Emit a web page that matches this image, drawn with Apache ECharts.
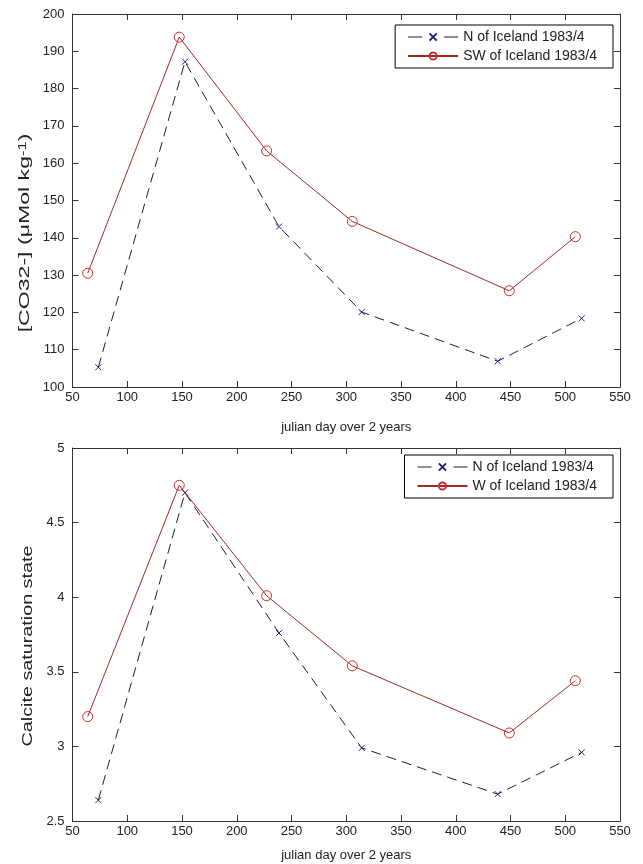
<!DOCTYPE html>
<html>
<head>
<meta charset="utf-8">
<script src="https://cdn.jsdelivr.net/npm/echarts@6/dist/echarts.min.js"></script>
<style>
html,body{margin:0;padding:0;background:#fff;}
#chart{width:643px;height:864px;}
</style>
</head>
<body>
<div id="chart"></div>
<script>
// ---- Data ----
const xTicks = [50, 550, 50];            // min, max, interval (julian day)
const topYTicks = [100, 200, 10];        // min, max, interval
const botYTicks = [2.5, 5, 0.5];

// Top panel: [CO32-]
const topNDays  = [73.6, 152.7, 238.6, 314.1, 438.3, 515.0];
const topNVals  = [105.3, 187.2, 143.0, 120.1, 106.9, 118.4];
const topSWDays = [63.9, 147.5, 227.3, 305.5, 448.9, 509.2];
const topSWVals = [130.5, 193.8, 163.3, 144.4, 125.8, 140.3];

// Bottom panel: calcite saturation state
const botNDays  = [73.6, 152.7, 238.6, 314.1, 438.3, 515.0];
const botNVals  = [2.64, 4.70, 3.76, 2.99, 2.68, 2.96];
const botWDays  = [63.9, 147.5, 227.3, 305.5, 448.9, 509.2];
const botWVals  = [3.20, 4.75, 4.01, 3.54, 3.09, 3.44];

const nameN  = 'N of Iceland 1983/4';
const nameSW = 'SW of Iceland 1983/4';
const nameW  = 'W of Iceland 1983/4';
const xName  = 'julian day over 2 years';
const topYName = '{a|[CO32-] (\u03bcMol kg}{s|-1}{a|)}';
const botYName = 'Calcite saturation state';

// ---- Styles ----
const FONT = 'Liberation Sans, Arial, sans-serif';
const AX = '#333';
const TXT = '#222';
const NLINE = '#1c1c3c';
const NMARK = '#22227a';
const RLINE = '#a02a2a';
const RMARK = '#c23030';
const crossPath = 'path://M0,0L10,10M10,0L0,10';

const zip = (a, b) => a.map((v, i) => [v, b[i]]);

function xAxes(grid, gap) {
  return [
    {
      type: 'value', gridIndex: grid, position: 'bottom',
      min: xTicks[0], max: xTicks[1], interval: xTicks[2],
      name: xName, nameLocation: 'middle', nameGap: gap,
      nameTextStyle: {fontFamily: FONT, fontSize: 13, color: TXT},
      axisLine: {show: true, onZero: false, lineStyle: {color: AX, width: 1}},
      axisTick: {show: true, inside: true, length: 6, lineStyle: {color: AX}},
      axisLabel: {show: true, margin: 4, fontFamily: FONT, fontSize: 13, color: TXT},
      splitLine: {show: false}
    },
    {
      type: 'value', gridIndex: grid, position: 'top',
      min: xTicks[0], max: xTicks[1], interval: xTicks[2],
      axisLine: {show: true, onZero: false, lineStyle: {color: AX, width: 1}},
      axisTick: {show: true, inside: true, length: 6, lineStyle: {color: AX}},
      axisLabel: {show: false},
      splitLine: {show: false}
    }
  ];
}

function yAxes(grid, ticks) {
  return [
    {
      type: 'value', gridIndex: grid, position: 'left',
      min: ticks[0], max: ticks[1], interval: ticks[2],
      axisLine: {show: true, onZero: false, lineStyle: {color: AX, width: 1}},
      axisTick: {show: true, inside: true, length: 6, lineStyle: {color: AX}},
      axisLabel: {show: true, margin: 8, fontFamily: FONT, fontSize: 13, color: TXT},
      splitLine: {show: false}
    },
    {
      type: 'value', gridIndex: grid, position: 'right',
      min: ticks[0], max: ticks[1], interval: ticks[2],
      axisLine: {show: true, onZero: false, lineStyle: {color: AX, width: 1}},
      axisTick: {show: true, inside: true, length: 6, lineStyle: {color: AX}},
      axisLabel: {show: false},
      splitLine: {show: false}
    }
  ];
}

function nSeries(xi, yi, data) {
  return {
    name: nameN, type: 'line', xAxisIndex: xi, yAxisIndex: yi, data: data,
    symbol: crossPath, symbolSize: 6,
    itemStyle: {color: 'rgba(0,0,0,0)', borderColor: NMARK, borderWidth: 1},
    lineStyle: {color: NLINE, width: 1, type: [10, 6]},
    emphasis: {disabled: true}, z: 3
  };
}
function rSeries(name, xi, yi, data) {
  return {
    name: name, type: 'line', xAxisIndex: xi, yAxisIndex: yi, data: data,
    symbol: 'circle', symbolSize: 10,
    itemStyle: {color: 'rgba(255,255,255,0)', borderColor: RMARK, borderWidth: 1},
    lineStyle: {color: RLINE, width: 1, type: 'solid'},
    emphasis: {disabled: true}, z: 4
  };
}

function legendCfg(top, redName) {
  return {
    top: top, right: 30, orient: 'vertical',
    data: [
      {name: nameN, lineStyle: {color: NLINE, width: 1, type: [14, 22]}},
      {name: redName}
    ],
    backgroundColor: '#fff', borderColor: '#000', borderWidth: 1, borderRadius: 0,
    padding: [5, 16, 5, 12], itemGap: 5, itemWidth: 50, itemHeight: 9,
    selectedMode: false,
    textStyle: {fontFamily: FONT, fontSize: 14, color: TXT}
  };
}

// rotated y-axis titles (the reference draws them elongated along their length)
function yTitle(x, y, text, sx, rich) {
  return {
    type: 'text', x: x, y: y, rotation: Math.PI / 2, scaleX: sx, scaleY: 1, z: 10,
    style: {text: text, fontFamily: FONT, fontSize: 14, fill: TXT,
            align: 'center', verticalAlign: 'middle', rich: rich}
  };
}

const chart = echarts.init(document.getElementById('chart'), null, {renderer: 'canvas'});
chart.setOption({
  animation: false,
  backgroundColor: '#fff',
  grid: [
    {left: 72.5, right: 23, top: 14, height: 373},
    {left: 72.5, right: 23, top: 448, height: 373}
  ],
  xAxis: [...xAxes(0, 34), ...xAxes(1, 28)],
  yAxis: [...yAxes(0, topYTicks), ...yAxes(1, botYTicks)],
  legend: [legendCfg(25, nameSW), legendCfg(455, nameW)],
  graphic: [
    yTitle(25, 233, topYName, 1.65, {
      a: {fontFamily: FONT, fontSize: 14, fill: TXT},
      s: {fontFamily: FONT, fontSize: 10, fill: TXT, verticalAlign: 'top'}
    }),
    yTitle(28, 646, botYName, 1.41, null)
  ],
  series: [
    nSeries(0, 0, zip(topNDays, topNVals)),
    rSeries(nameSW, 0, 0, zip(topSWDays, topSWVals)),
    nSeries(2, 2, zip(botNDays, botNVals)),
    rSeries(nameW, 2, 2, zip(botWDays, botWVals))
  ]
});
</script>
</body>
</html>
